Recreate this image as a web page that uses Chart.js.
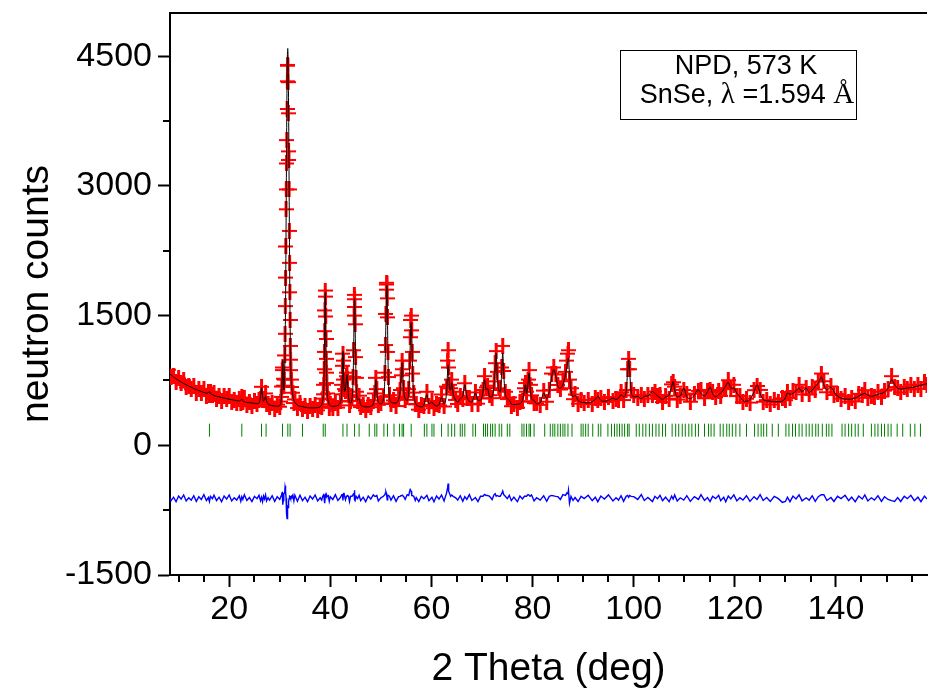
<!DOCTYPE html>
<html>
<head>
<meta charset="utf-8">
<title>SnSe NPD 573 K</title>
<script src="https://cdn.jsdelivr.net/npm/chart.js@4"></script>
<style>
  html, body { margin: 0; padding: 0; background: #fff; overflow: hidden; }
  #wrap { width: 936px; height: 693px; }
</style>
</head>
<body>
<div id="wrap"><canvas id="npd"></canvas></div>
<script>
// 2-theta positions of the profile points (deg)
const twoTheta = [
  8.0, 8.5, 9.0, 9.5, 10.0, 10.5, 11.0, 11.5, 12.0, 12.5,
  13.0, 13.5, 14.0, 14.5, 15.0, 15.5, 15.9, 16.1, 16.3, 16.7,
  17.0, 17.5, 18.0, 18.5, 19.0, 19.5, 20.0, 20.5, 21.0, 21.5,
  22.0, 22.3, 22.5, 22.7, 23.0, 23.5, 24.0, 24.5, 25.0, 25.5,
  25.9, 26.2, 26.4, 26.6, 26.8, 27.0, 27.2, 27.4, 27.7, 28.0,
  28.5, 29.0, 29.5, 30.0,
  30.2, 30.3, 30.4, 30.5, 30.6, 30.7, 30.8, 30.9, 31.0, 31.05,
  31.1, 31.15, 31.2, 31.25, 31.3, 31.35, 31.4, 31.45, 31.5, 31.55,
  31.6, 31.65, 31.7, 31.75, 31.8, 31.85, 31.9, 31.95, 32.0, 32.05,
  32.1, 32.15, 32.2, 32.3, 32.4, 32.6, 32.8, 33.0, 33.5,
  34.0, 34.5, 35.0, 35.5, 36.0, 36.5, 37.0, 37.5, 38.0, 38.3,
  38.5, 38.6, 38.7, 38.8, 38.85, 38.9, 38.95, 39.0, 39.05, 39.1,
  39.15, 39.2, 39.25, 39.3, 39.4, 39.6, 39.8, 40.0, 40.5, 41.0,
  41.5, 42.0, 42.2, 42.3, 42.4, 42.5, 42.6, 42.7, 42.8, 43.0,
  43.2, 43.3, 43.4, 43.6, 43.8, 44.0, 44.3, 44.5, 44.6, 44.7,
  44.75, 44.8, 44.85, 44.9, 45.0, 45.1, 45.2, 45.4, 45.7, 46.0,
  46.5, 47.0, 47.5, 48.0, 48.5, 48.8, 49.0, 49.2, 49.5, 50.0,
  50.5, 50.8, 50.9, 51.0, 51.1, 51.15, 51.2, 51.25, 51.3, 51.4,
  51.5, 51.7, 52.0, 52.5, 53.0, 53.5, 53.8, 54.0, 54.2, 54.3,
  54.5, 54.8, 55.2, 55.5, 55.7, 55.8, 55.9, 56.0, 56.1, 56.2,
  56.3, 56.5, 56.8, 57.0, 57.5, 58.0,
  58.5, 59.1, 59.5, 60.1, 60.5, 61.0, 61.5, 62.0, 62.5, 63.0,
  63.2, 63.3, 63.4, 63.6, 63.8, 64.0, 64.3, 64.8, 65.2, 65.7,
  66.2, 66.6, 67.0, 67.5, 68.0, 68.7, 69.2, 69.7, 70.2, 70.5,
  70.8, 71.1, 71.5, 72.0, 72.4, 72.6, 72.8, 73.0, 73.3, 73.6,
  73.9, 74.1, 74.3, 74.6, 75.0, 75.4, 75.8, 76.3, 77.0, 77.5,
  78.0, 78.4, 78.6, 78.8, 79.1, 79.3, 79.5, 79.8, 80.3, 80.8,
  81.5, 82.2, 82.8, 83.3, 83.8, 84.2, 84.6, 85.0, 85.5, 86.0,
  86.5, 86.8, 87.0, 87.1, 87.3, 87.6, 88.0, 88.4, 89.0, 89.6,
  90.2, 91.0, 91.8, 92.4, 92.9, 93.5, 94.2, 95.0, 95.9, 96.5,
  97.0, 97.5, 98.0, 98.5, 98.8, 99.0, 99.2, 99.5, 100.0,
  100.8, 101.5, 102.1, 102.8, 103.7, 104.2, 104.7, 105.2, 105.7, 106.3,
  107.0, 107.5, 107.8, 108.1, 108.6, 109.2, 109.9, 110.5, 111.2, 112.0,
  112.8, 113.3, 114.0, 114.6, 115.1, 115.6, 116.2, 116.8, 117.2, 117.8,
  118.2, 118.7, 119.2, 119.8, 120.4, 121.0, 121.6, 122.3, 123.0, 123.8,
  124.4, 125.0, 125.6, 126.3, 127.0, 127.8, 128.6, 129.4, 130.0, 130.4,
  130.9, 131.5, 132.1, 132.7, 133.3, 134.1, 134.7, 135.3, 135.9, 136.5,
  137.1, 137.6, 138.2, 139.0, 139.6, 140.3, 141.0, 141.8, 142.5, 143.1,
  143.8, 144.5, 145.2, 145.7, 146.3, 147.0, 147.6, 148.3, 149.0, 149.6,
  150.3, 151.0, 151.6, 152.2, 152.8, 153.5, 154.1, 154.8, 155.5, 156.2,
  156.8, 157.5, 158.0
];

// observed neutron counts (red crosses)
const yObs = [
  874, 787, 802, 730, 775, 723, 753, 669, 690, 649,
  686, 609, 651, 608, 653, 576, 618, 584, 620, 583,
  609, 539, 572, 513, 571, 531, 572, 497, 527, 495,
  541, 484, 553, 501, 543, 471, 501, 451, 507, 476,
  524, 532, 677, 525, 535, 521, 600, 479, 483, 443,
  489, 419, 470, 446,
  506, 560, 680, 870, 900, 770, 690, 760, 1040, 1290,
  1610, 1940, 2300, 2730, 2960, 3260, 3530, 3890, 4210, 4400,
  4390, 4200, 3840, 3400, 3300, 2960, 2480, 2110, 1770, 1450,
  1150, 990, 870, 760, 675, 608, 489, 531, 431,
  486, 420, 452, 396, 458, 423, 471, 405, 450, 448,
  540, 590, 700, 880, 1080, 1320, 1560, 1790, 1720, 1490,
  1230, 1000, 840, 720, 600, 534, 434, 476, 436, 493,
  436, 508, 590, 700, 920, 1060, 980, 760, 650, 630,
  800, 840, 770, 580, 462, 512, 560, 790, 1100, 1500,
  1740, 1690, 1600, 1400, 1020, 780, 620, 515, 574, 442,
  462, 405, 470, 441, 518, 600, 780, 650, 469, 485,
  560, 840, 1160, 1520, 1800, 1880, 1860, 1700, 1480, 1080,
  790, 580, 478, 519, 454, 548, 640, 810, 980, 880,
  660, 526, 561, 650, 980, 1250, 1450, 1500, 1330, 1080,
  830, 610, 474, 478, 412, 467,
  460, 619, 452, 512, 430, 480, 461, 588, 449, 680,
  980, 1100, 900, 700, 660, 760, 620, 525, 478, 569,
  534, 718, 546, 551, 474, 612, 482, 542, 640, 800,
  670, 690, 580, 545, 740, 950, 1090, 850, 660, 640,
  900, 1150, 860, 620, 535, 554, 452, 482, 435, 505,
  511, 660, 720, 620, 760, 870, 700, 578, 489, 485,
  468, 633, 504, 640, 830, 900, 820, 698, 646, 741,
  850, 980, 1060, 1100, 760, 660, 534, 588, 482, 522,
  490, 524, 477, 542, 526, 545, 501, 558, 515, 535,
  523, 614, 524, 640, 880, 1000, 880, 640, 578,
  552, 581, 540, 578, 585, 622, 565, 584, 499, 572,
  540, 705, 730, 678, 529, 575, 640, 589, 504, 598,
  629, 641, 544, 628, 635, 622, 555, 624, 572, 662,
  650, 753, 651, 700, 569, 571, 498, 539, 494, 638,
  686, 641, 504, 523, 472, 527, 500, 544, 522, 616,
  550, 625, 621, 700, 589, 667, 588, 669, 645, 738,
  830, 741, 614, 681, 582, 592, 540, 569, 504, 547,
  508, 595, 581, 638, 549, 571, 553, 619, 564, 633,
  646, 800, 674, 668, 612, 677, 657, 702, 647, 697,
  655, 730, 703
];

// calculated profile (black line)
const yCalc = [
  840, 815, 790, 770, 750, 732, 715, 700, 685, 671,
  657, 645, 633, 622, 612, 602, 610, 622, 598, 588,
  575, 567, 560, 553, 546, 540, 534, 528, 522, 517,
  512, 520, 535, 515, 502, 497, 493, 489, 485, 481,
  490, 560, 665, 565, 510, 530, 562, 510, 478, 465,
  460, 455, 452, 460,
  490, 530, 620, 800, 980, 800, 640, 700, 900, 1080,
  1320, 1650, 2050, 2500, 2980, 3450, 3880, 4230, 4460, 4580,
  4590, 4480, 4260, 3930, 3520, 3060, 2580, 2130, 1740, 1420,
  1170, 980, 840, 740, 660, 570, 520, 495, 465,
  452, 448, 440, 436, 433, 432, 433, 436, 445, 470,
  520, 560, 650, 900, 1120, 1380, 1620, 1766, 1700, 1450,
  1180, 950, 800, 690, 580, 505, 470, 458, 450, 452,
  462, 500, 560, 660, 880, 1087, 930, 700, 620, 650,
  780, 817, 740, 560, 500, 490, 540, 750, 1050, 1450,
  1650, 1700, 1620, 1430, 1050, 760, 600, 520, 540, 470,
  450, 445, 445, 450, 480, 580, 759, 620, 500, 480,
  540, 800, 1100, 1450, 1750, 1850, 1840, 1720, 1500, 1050,
  760, 560, 500, 490, 490, 530, 620, 780, 955, 850,
  640, 540, 520, 620, 900, 1150, 1350, 1420, 1300, 1050,
  800, 590, 500, 470, 450, 445,
  465, 585, 480, 500, 470, 455, 470, 550, 480, 620,
  860, 932, 820, 650, 640, 724, 600, 520, 500, 540,
  570, 700, 560, 510, 500, 604, 520, 520, 620, 759,
  640, 660, 560, 560, 700, 900, 1068, 820, 640, 620,
  850, 1068, 820, 600, 540, 520, 480, 470, 475, 480,
  520, 640, 700, 600, 720, 836, 680, 540, 520, 480,
  490, 604, 540, 620, 800, 875, 800, 680, 660, 700,
  820, 920, 1000, 1010, 820, 640, 560, 580, 520, 500,
  495, 490, 505, 530, 566, 520, 510, 520, 546, 530,
  545, 585, 560, 620, 850, 990, 850, 620, 560,
  566, 540, 566, 570, 623, 600, 570, 550, 527, 560,
  580, 680, 739, 640, 560, 570, 662, 560, 540, 580,
  643, 600, 570, 620, 673, 600, 560, 590, 600, 650,
  690, 728, 660, 662, 600, 566, 520, 510, 530, 620,
  700, 600, 530, 515, 510, 505, 505, 510, 550, 604,
  590, 600, 630, 662, 620, 662, 610, 640, 681, 720,
  790, 700, 640, 673, 620, 570, 545, 535, 532, 535,
  548, 570, 590, 600, 580, 566, 575, 590, 600, 615,
  660, 759, 700, 660, 650, 655, 662, 668, 675, 685,
  695, 705, 712
];

// difference curve, plotted with an offset (blue line)
const yDiff = [
  -578, -640, -600, -652, -587, -621, -574, -643, -607, -634,
  -583, -648, -594, -626, -571, -638, -604, -650, -590, -617,
  -578, -640, -600, -652, -587, -621, -574, -643, -607, -634,
  -583, -648, -594, -626, -571, -638, -604, -650, -590, -617,
  -578, -640, -600, -652, -587, -621, -574, -643, -607, -634,
  -583, -648, -594, -626,
  -596, -583, -553, -548, -688, -638, -563, -553, -528, -488,
  -468, -478, -528, -608, -658, -728, -798, -848, -818, -768,
  -708, -698, -728, -688, -648, -618, -608, -598, -588, -593,
  -613, -606, -598, -588, -598, -574, -643, -576, -646,
  -578, -640, -600, -652, -587, -621, -574, -643, -607, -634,
  -590, -580, -560, -630, -650, -670, -670, -586, -590, -570,
  -560, -560, -570, -580, -590, -583, -648, -594, -626, -571,
  -638, -604, -580, -570, -570, -637, -560, -550, -580, -630,
  -590, -587, -580, -590, -650, -590, -590, -570, -560, -560,
  -520, -620, -630, -640, -640, -590, -590, -617, -578, -640,
  -600, -652, -587, -621, -574, -590, -589, -580, -643, -607,
  -590, -570, -550, -540, -560, -580, -590, -630, -630, -580,
  -580, -590, -634, -583, -648, -594, -590, -580, -585, -580,
  -590, -626, -571, -580, -530, -510, -510, -530, -580, -580,
  -580, -590, -638, -604, -650, -590,
  -617, -578, -640, -600, -652, -587, -621, -574, -643, -550,
  -490, -442, -530, -560, -590, -574, -590, -607, -634, -583,
  -648, -594, -626, -571, -638, -604, -650, -590, -590, -569,
  -580, -580, -590, -627, -570, -560, -588, -580, -590, -590,
  -560, -528, -570, -590, -617, -578, -640, -600, -652, -587,
  -621, -590, -590, -590, -570, -576, -590, -574, -643, -607,
  -634, -583, -648, -590, -580, -585, -590, -594, -626, -571,
  -580, -550, -560, -520, -670, -590, -638, -604, -650, -590,
  -617, -578, -640, -600, -652, -587, -621, -574, -643, -607,
  -634, -583, -648, -590, -580, -602, -580, -590, -594,
  -626, -571, -638, -604, -650, -590, -617, -578, -640, -600,
  -652, -587, -621, -574, -643, -607, -634, -583, -648, -594,
  -626, -571, -638, -604, -650, -590, -617, -578, -640, -600,
  -652, -587, -621, -574, -643, -607, -634, -583, -648, -594,
  -626, -571, -638, -604, -650, -590, -617, -660, -650, -600,
  -652, -587, -621, -574, -643, -607, -634, -583, -648, -594,
  -572, -571, -638, -604, -650, -590, -617, -578, -640, -600,
  -652, -587, -621, -574, -643, -607, -634, -583, -648, -594,
  -626, -640, -650, -604, -650, -590, -617, -578, -640, -600,
  -652, -587, -621
];

// Bragg reflection positions (deg), drawn as green tick marks
const braggPos = [
  16.1, 22.5, 26.4, 27.3, 30.55, 31.6, 32.05, 34.5, 38.6, 39.0,
  42.5, 43.3, 44.8, 45.7, 47.7, 48.8, 49.2, 50.6, 51.3, 52.6,
  53.7, 54.2, 54.5, 56.0, 58.6, 59.1, 60.1, 60.5, 62.0, 63.3,
  64.0, 64.6, 65.7, 66.1, 66.6, 68.2, 68.7, 70.3, 70.7, 71.1,
  71.7, 72.1, 72.6, 73.4, 73.9, 75.0, 75.5, 77.9, 78.3, 78.8,
  79.3, 79.6, 80.3, 82.4, 83.5, 84.0, 84.4, 85.0, 85.5, 86.0,
  86.4, 87.0, 87.8, 89.6, 90.0, 90.5, 91.0, 91.9, 93.0, 93.5,
  94.9, 95.6, 96.2, 96.7, 97.2, 97.7, 98.2, 98.8, 99.1, 100.5,
  101.1, 101.8, 102.4, 103.1, 103.7, 104.4, 105.0, 105.7, 106.3, 107.6,
  108.3, 108.9, 109.6, 110.2, 110.9, 111.5, 112.2, 112.8, 114.0, 114.8,
  115.3, 115.9, 117.1, 117.7, 118.4, 118.9, 119.5, 120.2, 121.0, 122.3,
  123.9, 124.6, 125.2, 125.7, 126.3, 127.4, 128.6, 130.1, 130.7, 131.4,
  132.0, 132.7, 133.3, 134.1, 134.7, 135.3, 136.0, 136.5, 137.3, 138.1,
  138.6, 139.2, 141.2, 141.8, 142.5, 143.1, 143.8, 144.4, 145.4, 147.0,
  147.7, 148.3, 149.0, 149.6, 150.3, 150.9, 152.1, 153.2, 154.7, 155.6,
  156.7
];
const braggLevel = 175;

// axis ticks
const xTicks = [20, 40, 60, 80, 100, 120, 140];
const xMinor = [10, 15, 25, 30, 35, 45, 50, 55, 65, 70, 75, 85, 90, 95,
                105, 110, 115, 125, 130, 135, 145, 150, 155];
const yTicks = [-1500, 0, 1500, 3000, 4500];
const yMinor = [-750, 750, 2250, 3750];

const FONT = "'Liberation Sans', Arial, sans-serif";
const SERIF = "'Liberation Serif', 'DejaVu Serif', serif";

const obsPoints = twoTheta.map((t, i) => ({ x: t, y: yObs[i] }));
const calcPoints = twoTheta.map((t, i) => ({ x: t, y: yCalc[i] }));
const diffPoints = twoTheta.map((t, i) => ({ x: t, y: yDiff[i] }));
const braggPoints = braggPos.map(t => ({ x: t, y: braggLevel }));

// "+" marker with a slightly heavier upright stroke, so the points merge into a band
function crossMarker(w, h, hBar, vBar, color) {
  const c = document.createElement('canvas');
  c.width = w;
  c.height = h;
  const g = c.getContext('2d');
  g.fillStyle = color;
  g.fillRect(0, (h - hBar) / 2, w, hBar);
  g.fillRect((w - vBar) / 2, 0, vBar, h);
  return c;
}
const obsMarker = crossMarker(15, 16, 2, 3, '#ff0000');

// frame top edge, minor ticks and the sample label box
const framePlugin = {
  id: 'framePlugin',
  afterDraw(chart) {
    const { ctx, chartArea: a, scales } = chart;
    ctx.save();
    ctx.strokeStyle = '#000';
    ctx.lineWidth = 2;
    ctx.beginPath();
    ctx.moveTo(a.left - 1, a.top);
    ctx.lineTo(a.right, a.top);
    xMinor.forEach(v => {
      const px = Math.round(scales.x.getPixelForValue(v));
      ctx.moveTo(px, a.bottom);
      ctx.lineTo(px, a.bottom + 7);
    });
    yMinor.forEach(v => {
      const py = Math.round(scales.y.getPixelForValue(v));
      ctx.moveTo(a.left - 7, py);
      ctx.lineTo(a.left, py);
    });
    ctx.stroke();

    // label box
    ctx.fillStyle = '#fff';
    ctx.fillRect(620, 50, 236, 69);
    ctx.lineWidth = 1;
    ctx.strokeRect(620.5, 50.5, 236, 69);
    ctx.fillStyle = '#000';
    ctx.textBaseline = 'alphabetic';
    ctx.textAlign = 'center';
    ctx.font = '27px ' + FONT;
    ctx.fillText('NPD, 573 K', 746, 74);

    const parts = [
      ['SnSe, ', '27px ' + FONT],
      ['\u03bb', '29px ' + SERIF],
      [' =1.594 ', '27px ' + FONT],
      ['\u00c5', '29px ' + SERIF]
    ];
    let total = 0;
    parts.forEach(p => { ctx.font = p[1]; total += ctx.measureText(p[0]).width; });
    let cx = 747 - total / 2;
    ctx.textAlign = 'left';
    parts.forEach(p => {
      ctx.font = p[1];
      ctx.fillText(p[0], cx, 103);
      cx += ctx.measureText(p[0]).width;
    });
    ctx.restore();
  }
};

new Chart(document.getElementById('npd'), {
  type: 'scatter',
  data: {
    datasets: [
      {
        label: 'calc',
        data: calcPoints,
        showLine: true,
        borderColor: '#000',
        borderWidth: 1,
        pointRadius: 0,
        cubicInterpolationMode: 'monotone',
        order: 0
      },
      {
        label: 'obs',
        data: obsPoints,
        showLine: false,
        pointStyle: obsMarker,
        pointRadius: 8,
        borderColor: '#ff0000',
        order: 3
      },
      {
        label: 'bragg',
        data: braggPoints,
        showLine: false,
        pointStyle: 'line',
        pointRotation: 90,
        pointRadius: 6.5,
        pointBorderColor: '#008000',
        pointBorderWidth: 1,
        borderColor: '#008000',
        order: 2
      },
      {
        label: 'diff',
        data: diffPoints,
        showLine: true,
        borderColor: '#0000ff',
        borderWidth: 1.4,
        pointRadius: 0,
        order: 1
      }
    ]
  },
  options: {
    responsive: true,
    maintainAspectRatio: false,
    animation: false,
    events: [],
    layout: { padding: { top: 13, right: 0, bottom: 0, left: 0 } },
    plugins: { legend: { display: false }, tooltip: { enabled: false } },
    scales: {
      x: {
        type: 'linear',
        min: 8.3,
        max: 158,
        afterBuildTicks: s => { s.ticks = xTicks.map(v => ({ value: v })); },
        afterFit: s => { s.height = 118; s.paddingLeft = 0; s.paddingRight = 0; },
        border: { display: true, color: '#000', width: 2 },
        grid: { display: true, drawOnChartArea: false, drawTicks: true, tickLength: 12, tickWidth: 2, tickColor: '#000' },
        ticks: { color: '#000', font: { family: FONT, size: 34 }, padding: 2, maxRotation: 0, autoSkip: false, callback: v => String(v) },
        title: { display: true, text: '2 Theta (deg)', color: '#000', font: { family: FONT, size: 39 }, padding: { top: 10, bottom: 0 } }
      },
      y: {
        type: 'linear',
        min: -1500,
        max: 5000,
        afterBuildTicks: s => { s.ticks = yTicks.map(v => ({ value: v })); },
        afterFit: s => { s.width = 170; s.paddingTop = 0; s.paddingBottom = 0; },
        border: { display: true, color: '#000', width: 2 },
        grid: { display: true, drawOnChartArea: false, drawTicks: true, tickLength: 12, tickWidth: 2, tickColor: '#000' },
        ticks: { color: '#000', font: { family: FONT, size: 34 }, padding: 6, autoSkip: false, callback: v => String(v) },
        title: { display: true, text: 'neutron counts', color: '#000', font: { family: FONT, size: 39 }, padding: { top: 14, bottom: 0 } }
      }
    }
  },
  plugins: [framePlugin]
});
</script>
</body>
</html>
